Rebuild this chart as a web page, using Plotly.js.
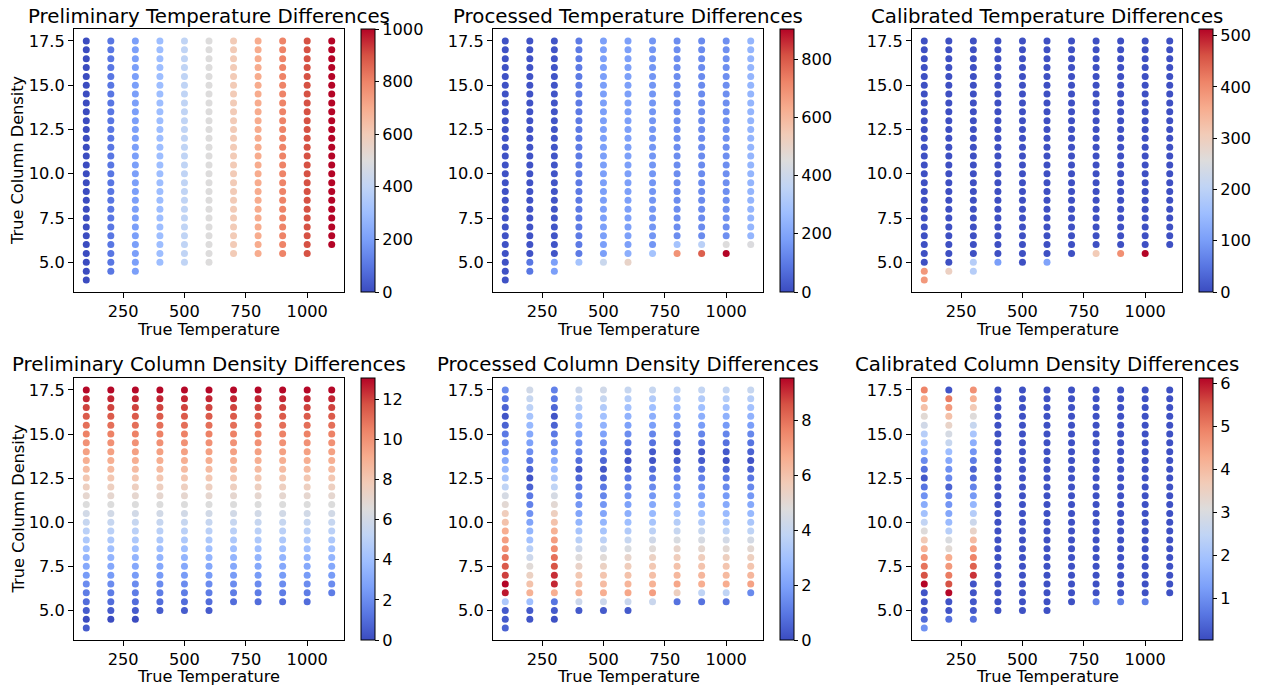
<!DOCTYPE html>
<html>
<head>
<meta charset="utf-8">
<script src="https://cdn.plot.ly/plotly-3.0.1.min.js"></script>
<style>
  html, body { margin: 0; padding: 0; background: #ffffff; }
  #chart { width: 1263px; height: 688px; }
</style>
</head>
<body>
<div id="chart"></div>
<script>
// Grid of true parameters
const temperatures = [100, 200, 300, 400, 500, 600, 700, 800, 900, 1000, 1100];
const densities = [4.0, 4.5, 5.0, 5.5, 6.0, 6.5, 7.0, 7.5, 8.0, 8.5, 9.0, 9.5, 10.0, 10.5,
                   11.0, 11.5, 12.0, 12.5, 13.0, 13.5, 14.0, 14.5, 15.0, 15.5, 16.0, 16.5, 17.0, 17.5];

// Differences per temperature column, listed from the lowest density up to 17.5
const prelimTempDiff = [
  [0,0,0,0,0,0,0,0,0,0, 0,0,0,0,0,0,0,0,0,0, 0,0,0,0,0,0,0,0],
  [100,100,100,100,100,100,100,100,100,100, 100,100,100,100,100,100,100,100,100,100, 100,100,100,100,100,100,100],
  [200,200,200,200,200,200,200,200,200,200, 200,200,200,200,200,200,200,200,200,200, 200,200,200,200,200,200,200],
  [300,300,300,300,300,300,300,300,300,300, 300,300,300,300,300,300,300,300,300,300, 300,300,300,300,300,300],
  [400,400,400,400,400,400,400,400,400,400, 400,400,400,400,400,400,400,400,400,400, 400,400,400,400,400,400],
  [500,500,500,500,500,500,500,500,500,500, 500,500,500,500,500,500,500,500,500,500, 500,500,500,500,500,500],
  [600,600,600,600,600,600,600,600,600,600, 600,600,600,600,600,600,600,600,600,600, 600,600,600,600,600],
  [700,700,700,700,700,700,700,700,700,700, 700,700,700,700,700,700,700,700,700,700, 700,700,700,700,700],
  [800,800,800,800,800,800,800,800,800,800, 800,800,800,800,800,800,800,800,800,800, 800,800,800,800,800],
  [900,900,900,900,900,900,900,900,900,900, 900,900,900,900,900,900,900,900,900,900, 900,900,900,900,900],
  [1000,1000,1000,1000,1000,1000,1000,1000,1000,1000, 1000,1000,1000,1000,1000,1000,1000,1000,1000,1000, 1000,1000,1000,1000]
];

const procTempDiff = [
  [12,12,12,12,12,12,12,12,12,12, 12,12,12,12,12,12,12,12,12,12, 12,12,12,12,12,12,12,12],
  [90,90,15,15,15,15,15,15,15,15, 15,15,15,15,15,15,15,15,15,15, 15,15,15,15,15,15,15],
  [180,180,18,18,18,18,18,18,18,18, 18,18,18,18,18,18,18,18,18,18, 18,18,18,18,18,18,18],
  [290,100,100,100,100,100,100,100,100,100, 100,100,100,100,100,100,100,100,100,100, 100,100,100,100,100,100],
  [390,180,180,180,180,180,180,180,180,180, 180,180,180,180,180,180,180,180,180,180, 180,180,180,180,180,180],
  [500,225,185,185,185,185,185,185,185,185, 185,185,185,185,185,185,185,185,185,185, 185,185,185,185,185,185],
  [290,160,160,160,160,160,160,160,160,160, 160,160,160,160,160,160,160,160,160,160, 160,160,160,160,160],
  [690,290,140,140,140,140,140,140,140,140, 140,140,140,140,140,140,140,140,140,140, 140,140,140,140,140],
  [790,345,135,135,135,135,135,135,135,135, 135,135,135,135,135,135,135,135,135,135, 135,135,135,135,135],
  [904,452,145,145,145,145,145,145,145,145, 145,145,145,145,145,145,145,145,145,145, 145,145,145,145,145],
  [445,245,245,245,245,245,245,245,245,245, 245,245,245,245,245,245,245,245,245,245, 245,245,245,245]
];

const calTempDiff = [
  [385,385,5,5,5,5,5,5,5,5, 5,5,5,5,5,5,5,5,5,5, 5,5,5,5,5,5,5,5],
  [293,5,5,5,5,5,5,5,5,5, 5,5,5,5,5,5,5,5,5,5, 5,5,5,5,5,5,5],
  [190,190,5,5,5,5,5,5,5,5, 5,5,5,5,5,5,5,5,5,5, 5,5,5,5,5,5,5],
  [103,5,5,5,5,5,5,5,5,5, 5,5,5,5,5,5,5,5,5,5, 5,5,5,5,5,5],
  [5,5,5,5,5,5,5,5,5,5, 5,5,5,5,5,5,5,5,5,5, 5,5,5,5,5,5],
  [110,5,5,5,5,5,5,5,5,5, 5,5,5,5,5,5,5,5,5,5, 5,5,5,5,5,5],
  [5,5,5,5,5,5,5,5,5,5, 5,5,5,5,5,5,5,5,5,5, 5,5,5,5,5],
  [308,5,5,5,5,5,5,5,5,5, 5,5,5,5,5,5,5,5,5,5, 5,5,5,5,5],
  [395,5,5,5,5,5,5,5,5,5, 5,5,5,5,5,5,5,5,5,5, 5,5,5,5,5],
  [513,5,5,5,5,5,5,5,5,5, 5,5,5,5,5,5,5,5,5,5, 5,5,5,5,5],
  [5,5,5,5,5,5,5,5,5,5, 5,5,5,5,5,5,5,5,5,5, 5,5,5,5]
];

const prelimDensDiff = [
  [0.5,0,0.5,1,1.5,2,2.5,3,3.5,4, 4.5,5,5.5,6,6.5,7,7.5,8,8.5,9, 9.5,10,10.5,11,11.5,12,12.5,13],
  [0,0.5,1,1.5,2,2.5,3,3.5,4,4.5, 5,5.5,6,6.5,7,7.5,8,8.5,9,9.5, 10,10.5,11,11.5,12,12.5,13],
  [0,0.5,1,1.5,2,2.5,3,3.5,4,4.5, 5,5.5,6,6.5,7,7.5,8,8.5,9,9.5, 10,10.5,11,11.5,12,12.5,13],
  [0.5,1,1.5,2,2.5,3,3.5,4,4.5,5, 5.5,6,6.5,7,7.5,8,8.5,9,9.5,10, 10.5,11,11.5,12,12.5,13],
  [0.5,1,1.5,2,2.5,3,3.5,4,4.5,5, 5.5,6,6.5,7,7.5,8,8.5,9,9.5,10, 10.5,11,11.5,12,12.5,13],
  [0.5,1,1.5,2,2.5,3,3.5,4,4.5,5, 5.5,6,6.5,7,7.5,8,8.5,9,9.5,10, 10.5,11,11.5,12,12.5,13],
  [1,1.5,2,2.5,3,3.5,4,4.5,5,5.5, 6,6.5,7,7.5,8,8.5,9,9.5,10,10.5, 11,11.5,12,12.5,13],
  [1,1.5,2,2.5,3,3.5,4,4.5,5,5.5, 6,6.5,7,7.5,8,8.5,9,9.5,10,10.5, 11,11.5,12,12.5,13],
  [1,1.5,2,2.5,3,3.5,4,4.5,5,5.5, 6,6.5,7,7.5,8,8.5,9,9.5,10,10.5, 11,11.5,12,12.5,13],
  [1,1.5,2,2.5,3,3.5,4,4.5,5,5.5, 6,6.5,7,7.5,8,8.5,9,9.5,10,10.5, 11,11.5,12,12.5,13],
  [1.5,2,2.5,3,3.5,4,4.5,5,5.5,6, 6.5,7,7.5,8,8.5,9,9.5,10,10.5,11, 11.5,12,12.5,13]
];

const procDensDiff = [
  [0.5,0.3,0.3,3.3,9.3,9.53,8.8,8.4,7.9,7.3, 7.0,6.6,6.0,5.6,5.0,4.5,3.8,3.2,2.7,2.2, 1.7,1.4,1.0,0.5,0.2,0.5,1.0,1.4],
  [0.2,0.3,2.9,6.5,6.0,5.4,4.9,4.2,3.6,3.0, 2.6,2.1,1.6,1.2,1.0,0.5,0.2,0.6,1.0,1.5, 2.0,2.2,2.7,3.1,3.7,4.0,4.3],
  [0.1,0.3,0.9,6.6,9.1,9.0,8.5,8.0,7.4,7.0, 6.5,6.0,5.5,5.0,4.5,3.8,3.3,2.8,2.3,1.8, 1.4,1.0,0.5,0.2,0.6,1.0,1.2],
  [0.3,4.2,6.5,6.1,5.8,5.3,4.8,4.2,3.6,3.1, 2.6,2.1,1.7,1.3,1.0,0.6,0.3,0.8,1.3,1.6, 2.0,2.5,3.0,3.4,3.9,4.2],
  [0.3,4.2,6.6,6.2,5.9,5.4,4.9,4.3,3.7,3.1, 2.6,2.1,1.7,1.3,0.95,0.5,0.2,0.6,1.0,1.5, 2.0,2.5,3.0,3.4,4.0,4.3],
  [0.3,4.1,6.8,6.4,6.0,5.6,5.2,4.6,4.0,3.4, 2.9,2.4,2.0,1.6,1.25,0.95,0.55,0.15,0.5,1.0, 1.5,2.0,2.5,3.0,3.5,4.0],
  [4.1,7.0,6.5,6.1,5.8,5.4,4.9,4.3,3.7,3.1, 2.7,2.2,1.75,1.4,1.0,0.65,0.2,0.3,0.85,1.3, 1.9,2.4,2.9,3.4,4.0],
  [0.85,5.5,6.8,6.3,6.0,5.6,5.2,4.6,4.0,3.5, 3.0,2.45,2.0,1.55,1.2,0.85,0.3,0.15,0.6,1.2, 1.7,2.3,2.8,3.3,3.8],
  [0.85,3.8,6.6,6.35,5.95,5.6,5.1,4.55,4.0,3.4, 2.9,2.4,1.95,1.55,1.2,0.8,0.35,0.25,0.85,1.3, 1.85,2.4,2.9,3.4,3.9],
  [0.85,3.8,6.65,6.25,5.9,5.5,5.0,4.4,3.75,3.2, 2.75,2.25,1.8,1.4,1.0,0.6,0.1,0.3,0.85,1.3, 1.8,2.45,3.0,3.5,3.9],
  [1.4,6.9,6.35,5.9,5.5,5.05,4.45,3.75,3.2,2.7, 2.2,1.75,1.35,0.95,0.5,0.15,0.5,0.9,1.35,1.9, 2.5,3.0,3.5,4.0]
];

const calDensDiff = [
  [1.05,0.45,0.15,0.15,0.15,6.12,5.5,5.1,4.65,4.15, 3.7,3.1,2.5,1.95,1.5,1.05,0.6,0.2,0.55,0.95, 1.5,1.95,2.3,2.8,3.2,3.9,4.3,4.9],
  [0.55,0.15,0.15,6.1,5.5,5.0,4.6,4.3,3.2,3.0, 2.3,1.8,1.4,1.1,0.85,0.35,0.9,1.05,1.45,1.85, 2.6,2.9,3.4,3.9,4.6,5.0,0.15],
  [0.55,0.2,0.2,0.15,0.15,5.75,5.3,4.9,4.5,4.0, 3.4,2.7,2.25,1.7,1.15,0.8,0.45,0.35,0.75,1.1, 1.55,2.05,2.6,3.1,3.7,4.2,4.7],
  [0.1,0.1,0.1,0.1,0.1,0.1,0.1,0.1,0.1,0.1, 0.1,0.1,0.1,0.1,0.1,0.1,0.1,0.1,0.1,0.1, 0.1,0.1,0.1,0.1,0.1,0.1],
  [0.1,0.1,0.1,0.1,0.1,0.1,0.1,0.1,0.1,0.1, 0.1,0.1,0.1,0.1,0.1,0.1,0.1,0.1,0.1,0.1, 0.1,0.1,0.1,0.1,0.1,0.1],
  [0.1,0.1,0.1,0.1,0.1,0.1,0.1,0.1,0.1,0.1, 0.1,0.1,0.1,0.1,0.1,0.1,0.1,0.1,0.1,0.1, 0.1,0.1,0.1,0.1,0.1,0.1],
  [0.1,0.1,0.1,0.1,0.1,0.1,0.1,0.1,0.1,0.1, 0.1,0.1,0.1,0.1,0.1,0.1,0.1,0.1,0.1,0.1, 0.1,0.1,0.1,0.1,0.1],
  [0.75,0.1,0.1,0.1,0.1,0.1,0.1,0.1,0.1,0.1, 0.1,0.1,0.1,0.1,0.1,0.1,0.1,0.1,0.1,0.1, 0.1,0.1,0.1,0.1,0.1],
  [0.75,0.1,0.1,0.1,0.1,0.1,0.1,0.1,0.1,0.1, 0.1,0.1,0.1,0.1,0.1,0.1,0.1,0.1,0.1,0.1, 0.1,0.1,0.1,0.1,0.1],
  [0.75,0.1,0.1,0.1,0.1,0.1,0.1,0.1,0.1,0.1, 0.1,0.1,0.1,0.1,0.1,0.1,0.1,0.1,0.1,0.1, 0.1,0.1,0.1,0.1,0.1],
  [0.1,0.1,0.1,0.1,0.1,0.1,0.1,0.1,0.1,0.1, 0.1,0.1,0.1,0.1,0.1,0.1,0.1,0.1,0.1,0.1, 0.1,0.1,0.1,0.1]
];

const panelTitles = [
  'Preliminary Temperature Differences', 'Processed Temperature Differences', 'Calibrated Temperature Differences',
  'Preliminary Column Density Differences', 'Processed Column Density Differences', 'Calibrated Column Density Differences'
];
const panelValues = [prelimTempDiff, procTempDiff, calTempDiff, prelimDensDiff, procDensDiff, calDensDiff];
const colorRanges = [[0, 1000], [0, 904], [0, 513], [0, 13.05], [0, 9.53], [0.03, 6.12]];
const colorTickSteps = [200, 200, 100, 2, 2, 1];

// Matplotlib-style diverging "coolwarm" scale
const coolwarm = [
  [0.0, '#3b4cc0'], [0.1, '#5977e3'], [0.2, '#7b9ff9'], [0.3, '#9ebeff'],
  [0.4, '#c0d4f5'], [0.5, '#dddcdc'], [0.6, '#f2cbb7'], [0.7, '#f7ac8e'],
  [0.8, '#ee8468'], [0.9, '#d65244'], [1.0, '#b40426']
];

// Page geometry in pixels
const W = 1263, H = 688;
const fx = p => p / W;
const fy = p => 1 - p / H;
const colX = [[74, 344], [493, 763], [912, 1182]];
const rowY = [[29, 292], [378, 640]];
const titleY = [16.5, 364.5];
const xLabelY = [329, 676.5];
const colorbarLeft = [361, 780, 1199];
const FONT = 'DejaVu Sans, sans-serif';
const LABEL_SIZE = 16.2;
const TITLE_SIZE = 19.8;

function flatten(values) {
  const xs = [], ys = [], cs = [];
  values.forEach((col, i) => {
    const ds = densities.slice(densities.length - col.length);
    col.forEach((v, j) => { xs.push(temperatures[i]); ys.push(ds[j]); cs.push(v); });
  });
  return { xs, ys, cs };
}

const traces = [];
const layout = {
  width: W, height: H,
  margin: { l: 0, r: 0, t: 0, b: 0 },
  paper_bgcolor: '#ffffff', plot_bgcolor: '#ffffff',
  font: { family: FONT, color: '#000000', size: LABEL_SIZE },
  showlegend: false,
  annotations: []
};

const axisStyle = {
  showline: true, mirror: true, linecolor: '#000000', linewidth: 1,
  ticks: 'outside', ticklen: 5, tickwidth: 1, tickcolor: '#000000',
  showgrid: false, zeroline: false,
  tickfont: { family: FONT, size: LABEL_SIZE, color: '#000000' }
};

panelValues.forEach((values, k) => {
  const row = Math.floor(k / 3), col = k % 3;
  const suffix = k === 0 ? '' : String(k + 1);
  const d = flatten(values);
  const [yTop, yBot] = rowY[row];
  const [xL, xR] = colX[col];

  traces.push({
    type: 'scatter', mode: 'markers',
    x: d.xs, y: d.ys,
    xaxis: 'x' + suffix, yaxis: 'y' + suffix,
    hoverinfo: 'skip',
    marker: {
      size: 7, color: d.cs, colorscale: coolwarm,
      cmin: colorRanges[k][0], cmax: colorRanges[k][1],
      line: { width: 0 },
      showscale: true,
      colorbar: {
        x: fx(colorbarLeft[col]), xanchor: 'left', xpad: 0,
        y: fy((yTop + yBot) / 2), yanchor: 'middle', ypad: 0,
        len: (yBot - yTop) / H, lenmode: 'fraction',
        thickness: 14, outlinewidth: 1, outlinecolor: '#000000', borderwidth: 0,
        ticks: 'outside', ticklen: 4, tickwidth: 1, tickcolor: '#000000',
        tick0: 0, dtick: colorTickSteps[k],
        tickfont: { family: FONT, size: LABEL_SIZE, color: '#000000' }
      }
    }
  });

  layout['xaxis' + suffix] = Object.assign({}, axisStyle, {
    domain: [fx(xL), fx(xR)], anchor: 'y' + suffix,
    range: [50, 1150], tickvals: [250, 500, 750, 1000]
  });
  layout['yaxis' + suffix] = Object.assign({}, axisStyle, {
    domain: [fy(yBot), fy(yTop)], anchor: 'x' + suffix,
    range: [3.325, 18.175],
    tickvals: [5, 7.5, 10, 12.5, 15, 17.5],
    ticktext: ['5.0', '7.5', '10.0', '12.5', '15.0', '17.5']
  });

  // panel title
  layout.annotations.push({
    xref: 'paper', yref: 'paper', x: fx((xL + xR) / 2), y: fy(titleY[row]),
    xanchor: 'center', yanchor: 'middle', showarrow: false, borderpad: 0,
    text: panelTitles[k], font: { family: FONT, size: TITLE_SIZE, color: '#000000' }
  });
  // x axis label
  layout.annotations.push({
    xref: 'paper', yref: 'paper', x: fx((xL + xR) / 2), y: fy(xLabelY[row]),
    xanchor: 'center', yanchor: 'middle', showarrow: false, borderpad: 0,
    text: 'True Temperature', font: { family: FONT, size: LABEL_SIZE, color: '#000000' }
  });
  // y axis label on the left column only
  if (col === 0) {
    layout.annotations.push({
      xref: 'paper', yref: 'paper', x: fx(17.5), y: fy((yTop + yBot) / 2),
      xanchor: 'center', yanchor: 'middle', showarrow: false, textangle: -90, borderpad: 0,
      text: 'True Column Density', font: { family: FONT, size: LABEL_SIZE, color: '#000000' }
    });
  }
});

Plotly.newPlot('chart', traces, layout, { displayModeBar: false, staticPlot: true });
</script>
</body>
</html>
